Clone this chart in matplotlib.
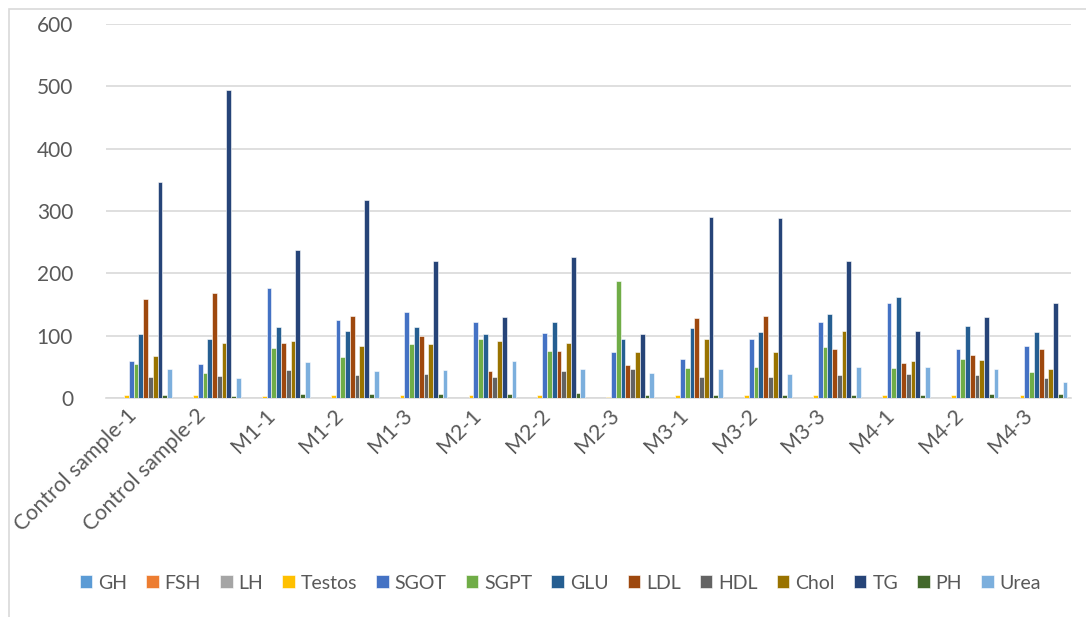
import numpy as np
import matplotlib
matplotlib.use("Agg")
from matplotlib import pyplot as plt
from matplotlib.patches import Rectangle

plt.rcParams['font.family'] = ['Lato', 'DejaVu Sans']

samples = ["Control sample-1", "Control sample-2", "M1-1", "M1-2", "M1-3",
           "M2-1", "M2-2", "M2-3", "M3-1", "M3-2", "M3-3", "M4-1", "M4-2", "M4-3"]

series_names = ["GH", "FSH", "LH", "Testos", "SGOT", "SGPT", "GLU", "LDL",
                "HDL", "Chol", "TG", "PH", "Urea"]

gh     = [0.4, 0.4, 0.3, 0.4, 0.3, 0.4, 0.3, 0.3, 0.4, 0.3, 0.4, 0.3, 0.4, 0.3]
fsh    = [0.3, 0.3, 0.2, 0.3, 0.2, 0.3, 0.2, 0.2, 0.3, 0.2, 0.3, 0.2, 0.3, 0.2]
lh     = [0.5, 0.5, 0.4, 0.5, 0.4, 0.5, 0.4, 0.4, 0.5, 0.4, 0.5, 0.4, 0.5, 0.4]
testos = [4, 4, 2.5, 4, 4, 4, 4, 2, 5, 5, 4, 4, 4, 4]
sgot   = [60, 54, 177, 125, 138, 122, 105, 73, 62, 95, 122, 152, 79, 83]
sgpt   = [55, 40, 80, 66, 87, 95, 75, 188, 48, 49, 81, 48, 62, 41]
glu    = [103, 95, 114, 108, 114, 103, 122, 95, 113, 106, 135, 162, 116, 106]
ldl    = [159, 168, 88, 131, 99, 44, 75, 53, 129, 131, 79, 56, 69, 79]
hdl    = [34, 36, 45, 37, 39, 34, 44, 47, 33, 34, 37, 39, 37, 32]
chol   = [67, 89, 92, 84, 87, 92, 89, 73, 94, 73, 108, 60, 61, 46]
tg     = [347, 494, 238, 318, 220, 130, 226, 102, 291, 289, 219, 108, 130, 152]
ph     = [4, 2.5, 6, 6, 6, 6, 8, 5, 5, 4, 5, 5, 6, 6]
urea   = [47, 32, 58, 43, 45, 60, 46, 40, 47, 38, 50, 50, 47, 26]

colors = ["#5B9BD5", "#ED7D31", "#A5A5A5", "#FFC000", "#4472C4", "#70AD47",
          "#255E91", "#9E480E", "#636363", "#997300", "#264478", "#43682B", "#7CAFDD"]

all_series = [gh, fsh, lh, testos, sgot, sgpt, glu, ldl, hdl, chol, tg, ph, urea]

fig = plt.figure(figsize=(10.86, 6.17), dpi=100)
ax = fig.add_axes([0.098, 0.355, 0.888, 0.606])

# light frame round the chart like the excel chart area
fig.patches.append(Rectangle((9 / 1086, -0.1), 1.2, 1 - 9 / 617 + 0.1,
                             transform=fig.transFigure, fill=False,
                             edgecolor="#d9d9d9", linewidth=1.2))

x = np.arange(len(samples))
n = len(all_series)
step = 0.9 / n
for i, (name, vals, c) in enumerate(zip(series_names, all_series, colors)):
    ax.bar(x + (i - (n - 1) / 2) * step, vals, width=step, color=c,
           edgecolor="white", linewidth=0.4, label=name, zorder=3)

ax.set_ylim(0, 600)
ax.set_yticks(range(0, 601, 100))
ax.set_xlim(-0.5, len(samples) - 0.5)
ax.set_xticks(x)
ax.set_xticklabels(samples, rotation=45, ha="right")
ax.grid(axis="y", color="#d9d9d9", linewidth=1.2, zorder=0)
for s in ["top", "right", "left"]:
    ax.spines[s].set_visible(False)
ax.spines["bottom"].set_color("#d9d9d9")
ax.spines["bottom"].set_linewidth(1.2)
ax.tick_params(axis="both", length=0, labelsize=15.5, colors="#595959")
ax.tick_params(axis="y", pad=24, labelsize=15)
ax.tick_params(axis="x", pad=5)

ax.legend(loc="center", bbox_to_anchor=(0.4707, -0.495), ncol=13, frameon=False,
          fontsize=14, handlelength=0.65, handleheight=0.65, handletextpad=0.3,
          columnspacing=0.98, labelcolor="#595959", borderaxespad=0, borderpad=0)

fig.savefig("out.png", dpi=100)
